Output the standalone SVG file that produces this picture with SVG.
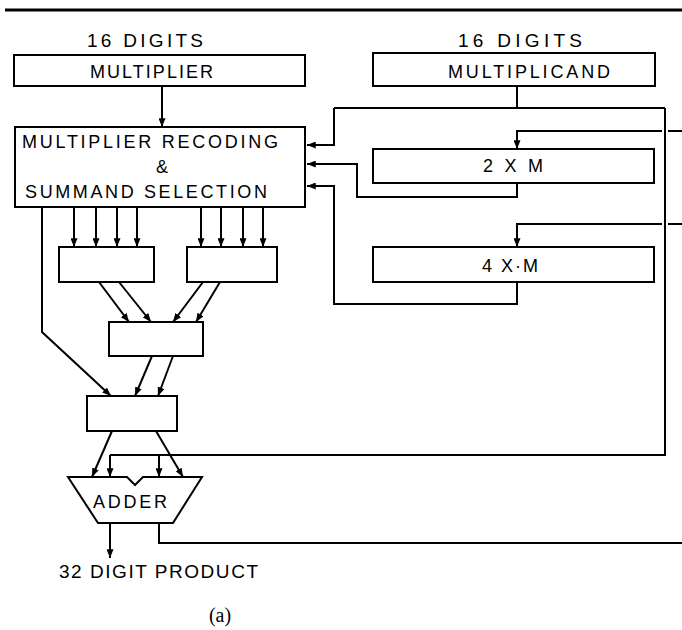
<svg xmlns="http://www.w3.org/2000/svg" width="682" height="630" viewBox="0 0 682 630">
<defs>
<marker id="ah" viewBox="0 0 10 8" refX="10" refY="4" markerWidth="9" markerHeight="7" markerUnits="userSpaceOnUse" orient="auto">
<path d="M0,0 L10,4 L0,8 Z" fill="#000"/>
</marker>
</defs>
<style>
.box{fill:#fff;stroke:#000;stroke-width:2}
.ln{fill:none;stroke:#000;stroke-width:2}
.ar{fill:none;stroke:#000;stroke-width:2;marker-end:url(#ah)}
text{font-family:"Liberation Sans","DejaVu Sans",sans-serif;fill:#000}
.t{font-size:19px}
.s{font-size:18px}
</style>
<rect width="682" height="630" fill="#fff"/>
<line x1="5" y1="10" x2="682" y2="10" stroke="#000" stroke-width="3"/>
<g id="connectors">
<line class="ar" x1="162" y1="86" x2="162" y2="127"/>
<polyline class="ln" points="517,86 517,108"/>
<polyline class="ln" points="665,108 334,108"/>
<polyline class="ar" points="334,108 334,145 307,145"/>
<polyline class="ln" points="665,108 665,455 110,455"/>
<polyline class="ln" points="682,131 668,131"/>
<polyline class="ar" points="662,131 517,131 517,149"/>
<polyline class="ln" points="682,224 668,224"/>
<polyline class="ar" points="662,224 517,224 517,247"/>
<polyline class="ar" points="517,183 517,197 357,197 357,164 307,164"/>
<polyline class="ar" points="517,282 517,304 334,304 334,186 307,186"/>
<line class="ar" x1="74" y1="207" x2="74" y2="247"/>
<line class="ar" x1="96" y1="207" x2="96" y2="247"/>
<line class="ar" x1="117" y1="207" x2="117" y2="247"/>
<line class="ar" x1="137" y1="207" x2="137" y2="247"/>
<line class="ar" x1="201" y1="207" x2="201" y2="247"/>
<line class="ar" x1="221" y1="207" x2="221" y2="247"/>
<line class="ar" x1="243" y1="207" x2="243" y2="247"/>
<line class="ar" x1="263" y1="207" x2="263" y2="247"/>
<polyline class="ar" points="42,207 42,332 111,396"/>
<line class="ar" x1="99" y1="282" x2="129" y2="322"/>
<line class="ar" x1="119" y1="282" x2="151" y2="322"/>
<line class="ar" x1="203" y1="282" x2="173" y2="322"/>
<line class="ar" x1="220" y1="282" x2="196" y2="322"/>
<line class="ar" x1="152" y1="356" x2="135" y2="396"/>
<line class="ar" x1="173" y1="356" x2="158" y2="396"/>
<line class="ar" x1="112" y1="431" x2="92" y2="477"/>
<line class="ar" x1="156" y1="431" x2="183" y2="477"/>
<line class="ar" x1="110" y1="455" x2="110" y2="477"/>
<line class="ar" x1="159" y1="455" x2="159" y2="477"/>
<line class="ar" x1="110" y1="523" x2="110" y2="558"/>
<polyline class="ln" points="159,523 159,543 682,543"/>
</g>
<text class="t" x="87" y="47" textLength="116" lengthAdjust="spacing">16 DIGITS</text>
<text class="t" x="458" y="47" textLength="124" lengthAdjust="spacing">16 DIGITS</text>
<g id="multiplier">
<rect class="box" x="14" y="55" width="291" height="31"/>
<text class="s" x="90" y="78" textLength="123" lengthAdjust="spacing">MULTIPLIER</text>
</g>
<g id="multiplicand">
<rect class="box" x="373" y="53" width="282" height="33"/>
<text class="s" x="448" y="78" textLength="162" lengthAdjust="spacing">MULTIPLICAND</text>
</g>
<g id="recoding">
<rect class="box" x="15" y="127" width="290" height="80"/>
<text class="s" x="22" y="148" textLength="256" lengthAdjust="spacing">MULTIPLIER RECODING</text>
<text class="s" x="162" y="173" text-anchor="middle">&amp;</text>
<text class="s" x="25" y="198" textLength="242" lengthAdjust="spacing">SUMMAND SELECTION</text>
</g>
<g id="twoxm">
<rect class="box" x="373" y="149" width="281" height="34"/>
<text class="s" x="483" y="172" textLength="60" lengthAdjust="spacing">2 X M</text>
</g>
<g id="fourxm">
<rect class="box" x="373" y="247" width="281" height="35"/>
<text class="s" x="482" y="272" textLength="56" lengthAdjust="spacing">4 X·M</text>
</g>
<g id="csa1"><rect class="box" x="59" y="247" width="95" height="35"/></g>
<g id="csa2"><rect class="box" x="187" y="247" width="90" height="35"/></g>
<g id="csa3"><rect class="box" x="109" y="322" width="94" height="34"/></g>
<g id="csa4"><rect class="box" x="87" y="396" width="90" height="35"/></g>
<g id="adder">
<path class="box" d="M68,477 L127,477 L135,485 L143,477 L202,477 L173,523 L98,523 Z"/>
<text class="s" x="93" y="508" textLength="74" lengthAdjust="spacing">ADDER</text>
</g>
<text class="t" x="59" y="578" textLength="199" lengthAdjust="spacing">32 DIGIT PRODUCT</text>
<text x="220" y="622" text-anchor="middle" font-size="20" style="font-family:'Liberation Serif',serif">(a)</text>
</svg>
